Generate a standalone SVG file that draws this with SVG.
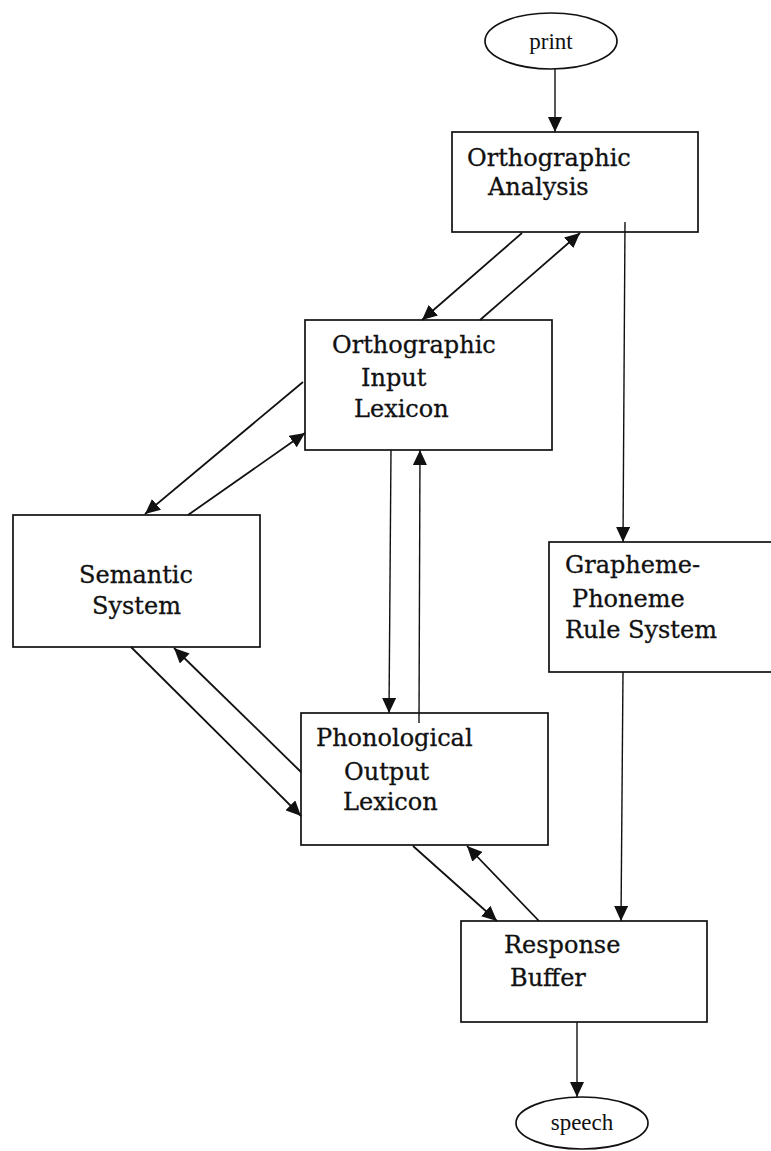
<svg xmlns="http://www.w3.org/2000/svg" width="771" height="1151" viewBox="0 0 771 1151">
<style>
.box{fill:#fff;stroke:#111;stroke-width:1.7}
.lbl{font-family:"DejaVu Serif","Liberation Serif",serif;font-size:24px;fill:#111;stroke:#111;stroke-width:0.3}
.term{font-family:"Liberation Serif","DejaVu Serif",serif;font-size:23px;fill:#111;text-anchor:middle}
.c{fill:none;stroke:#111;stroke-width:1.8;marker-end:url(#ah)}
.v{stroke-width:1.4}
</style>
<defs>
<marker id="ah" markerUnits="userSpaceOnUse" markerWidth="15" markerHeight="14" refX="15" refY="7" orient="auto" viewBox="0 0 15 14">
<path d="M0,0 L15,7 L0,14 z" fill="#111"/>
</marker>
</defs>
<rect width="771" height="1151" fill="#fff"/>
<g id="print">
<ellipse cx="551" cy="41" rx="66" ry="28" class="box"/>
<text x="551" y="49" class="term">print</text>
</g>
<g id="orthographic-analysis">
<rect x="452" y="132" width="246" height="100" class="box"/>
<text x="467" y="166" class="lbl">Orthographic</text>
<text x="488" y="195" class="lbl">Analysis</text>
</g>
<g id="orthographic-input-lexicon">
<rect x="305" y="320" width="247" height="130" class="box"/>
<text x="332" y="353" class="lbl">Orthographic</text>
<text x="361" y="386" class="lbl">Input</text>
<text x="354" y="417" class="lbl">Lexicon</text>
</g>
<g id="semantic-system">
<rect x="13" y="515" width="247" height="132" class="box"/>
<text x="79" y="583" class="lbl">Semantic</text>
<text x="92" y="614" class="lbl">System</text>
</g>
<g id="grapheme-phoneme">
<rect x="549" y="542" width="240" height="130" class="box"/>
<text x="565" y="573" class="lbl">Grapheme-</text>
<text x="572" y="607" class="lbl">Phoneme</text>
<text x="565" y="638" class="lbl">Rule System</text>
</g>
<g id="phonological-output-lexicon">
<rect x="301" y="713" width="247" height="132" class="box"/>
<text x="316" y="746" class="lbl">Phonological</text>
<text x="344" y="780" class="lbl">Output</text>
<text x="343" y="810" class="lbl">Lexicon</text>
</g>
<g id="response-buffer">
<rect x="461" y="921" width="246" height="101" class="box"/>
<text x="504" y="953" class="lbl">Response</text>
<text x="510" y="986" class="lbl">Buffer</text>
</g>
<g id="speech">
<ellipse cx="582" cy="1123" rx="66" ry="26" class="box"/>
<text x="582" y="1130" class="term">speech</text>
</g>
<g id="connectors">
<line x1="555" y1="69" x2="555" y2="132" class="c v"/>
<line x1="522" y1="233" x2="422" y2="320" class="c"/>
<line x1="480" y1="320" x2="580" y2="233" class="c"/>
<line x1="625" y1="222" x2="623" y2="542" class="c v"/>
<line x1="303" y1="382" x2="145" y2="514" class="c"/>
<line x1="188" y1="515" x2="305" y2="433" class="c"/>
<line x1="391" y1="450" x2="389" y2="713" class="c v"/>
<line x1="419" y1="723" x2="420" y2="450" class="c v"/>
<line x1="131" y1="647" x2="301" y2="816" class="c"/>
<line x1="301" y1="772" x2="174" y2="648" class="c"/>
<line x1="413" y1="846" x2="497" y2="921" class="c"/>
<line x1="539" y1="921" x2="467" y2="846" class="c"/>
<line x1="623" y1="672" x2="621" y2="921" class="c v"/>
<line x1="577" y1="1022" x2="577" y2="1097" class="c v"/>
</g>
</svg>
